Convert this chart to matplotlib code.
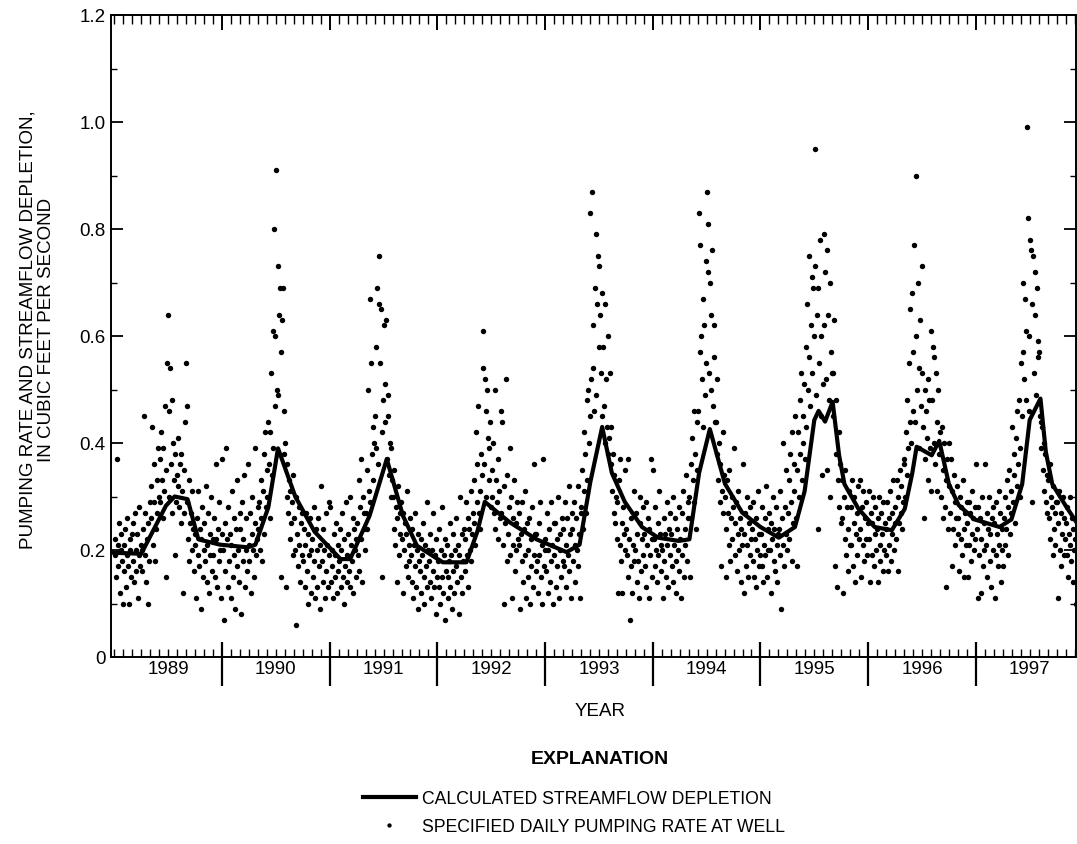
import matplotlib
matplotlib.use('Agg')
import matplotlib.pyplot as plt
from matplotlib.ticker import FixedLocator, FuncFormatter, MultipleLocator, NullFormatter
import matplotlib.transforms as mtransforms

plt.rcParams['font.family'] = ['Liberation Sans', 'DejaVu Sans']

# calculated streamflow depletion (decimal year, cfs)
line_year = [1988.97, 1989.25, 1989.48, 1989.56, 1989.68, 1989.78, 1989.98, 1990.24, 1990.31,
             1990.43, 1990.52, 1990.68, 1990.86, 1991.10, 1991.19, 1991.37, 1991.53, 1991.68,
             1991.81, 1992.05, 1992.27, 1992.37, 1992.44, 1992.67, 1992.92, 1993.20, 1993.32,
             1993.42, 1993.53, 1993.62, 1993.74, 1993.90, 1994.05, 1994.24, 1994.34, 1994.43,
             1994.53, 1994.67, 1994.83, 1995.00, 1995.17, 1995.32, 1995.41, 1995.50, 1995.54,
             1995.60, 1995.67, 1995.73, 1995.78, 1995.91, 1996.06, 1996.22, 1996.34, 1996.41,
             1996.45, 1996.59, 1996.66, 1996.75, 1996.84, 1996.99, 1997.22, 1997.33, 1997.43,
             1997.50, 1997.60, 1997.65, 1997.71, 1997.83, 1997.94]
line_cfs = [0.195, 0.193, 0.283, 0.300, 0.295, 0.220, 0.210, 0.205, 0.210,
            0.280, 0.390, 0.300, 0.234, 0.183, 0.183, 0.264, 0.370, 0.264,
            0.208, 0.177, 0.177, 0.234, 0.290, 0.252, 0.220, 0.196, 0.210,
            0.327, 0.430, 0.344, 0.290, 0.243, 0.223, 0.217, 0.220, 0.344,
            0.426, 0.324, 0.270, 0.243, 0.223, 0.243, 0.310, 0.443, 0.460,
            0.440, 0.477, 0.377, 0.323, 0.277, 0.243, 0.237, 0.277, 0.344,
            0.393, 0.377, 0.404, 0.323, 0.284, 0.257, 0.243, 0.257, 0.323,
            0.443, 0.483, 0.383, 0.323, 0.284, 0.250]

pump_1989 = [
    [0.19, 0.22, 0.15, 0.37, 0.21, 0.17, 0.25, 0.12, 0.20, 0.23, 0.18, 0.10],
    [0.21, 0.16, 0.24, 0.13, 0.19, 0.26, 0.17, 0.10, 0.22, 0.20, 0.15, 0.23],
    [0.25, 0.18, 0.14, 0.27, 0.20, 0.16, 0.23, 0.11, 0.19, 0.28, 0.17, 0.21],
    [0.20, 0.16, 0.24, 0.45, 0.19, 0.27, 0.14, 0.22, 0.10, 0.25, 0.18, 0.29],
    [0.26, 0.32, 0.43, 0.21, 0.29, 0.36, 0.18, 0.24, 0.33, 0.27, 0.39, 0.30],
    [0.37, 0.29, 0.42, 0.33, 0.26, 0.39, 0.31, 0.47, 0.15, 0.35, 0.55, 0.64],
    [0.46, 0.30, 0.54, 0.36, 0.48, 0.27, 0.40, 0.33, 0.19, 0.38, 0.29, 0.34],
    [0.32, 0.41, 0.28, 0.36, 0.25, 0.38, 0.31, 0.12, 0.35, 0.27, 0.44, 0.55],
    [0.47, 0.29, 0.22, 0.33, 0.18, 0.25, 0.27, 0.20, 0.31, 0.24, 0.16, 0.23],
    [0.21, 0.11, 0.26, 0.19, 0.31, 0.17, 0.24, 0.09, 0.22, 0.28, 0.15, 0.20],
    [0.25, 0.18, 0.32, 0.14, 0.21, 0.27, 0.12, 0.23, 0.19, 0.30, 0.16, 0.22],
    [0.19, 0.26, 0.15, 0.36, 0.22, 0.13, 0.24, 0.18, 0.29, 0.20, 0.11, 0.23],
]
pump_1990 = [
    [0.37, 0.20, 0.07, 0.25, 0.16, 0.39, 0.22, 0.13, 0.28, 0.18, 0.23, 0.11],
    [0.21, 0.31, 0.15, 0.26, 0.19, 0.09, 0.24, 0.17, 0.33, 0.20, 0.14, 0.27],
    [0.24, 0.08, 0.29, 0.18, 0.22, 0.34, 0.13, 0.20, 0.26, 0.16, 0.36, 0.21],
    [0.18, 0.27, 0.12, 0.23, 0.30, 0.20, 0.15, 0.25, 0.39, 0.19, 0.22, 0.28],
    [0.24, 0.29, 0.20, 0.33, 0.26, 0.18, 0.31, 0.38, 0.23, 0.42, 0.28, 0.35],
    [0.30, 0.44, 0.36, 0.42, 0.26, 0.53, 0.34, 0.61, 0.39, 0.80, 0.47, 0.60],
    [0.91, 0.50, 0.73, 0.49, 0.64, 0.69, 0.57, 0.15, 0.63, 0.69, 0.46, 0.38],
    [0.40, 0.13, 0.36, 0.30, 0.27, 0.33, 0.22, 0.31, 0.25, 0.29, 0.34, 0.19],
    [0.26, 0.20, 0.30, 0.06, 0.23, 0.17, 0.28, 0.21, 0.14, 0.25, 0.19, 0.27],
    [0.18, 0.24, 0.13, 0.21, 0.27, 0.16, 0.10, 0.23, 0.19, 0.26, 0.12, 0.20],
    [0.22, 0.15, 0.28, 0.18, 0.11, 0.24, 0.20, 0.13, 0.26, 0.17, 0.09, 0.21],
    [0.32, 0.18, 0.14, 0.24, 0.20, 0.11, 0.27, 0.16, 0.21, 0.13, 0.29, 0.19],
]
pump_1991 = [
    [0.28, 0.14, 0.20, 0.17, 0.11, 0.23, 0.19, 0.15, 0.25, 0.12, 0.21, 0.16],
    [0.18, 0.24, 0.13, 0.20, 0.27, 0.15, 0.10, 0.22, 0.17, 0.29, 0.14, 0.19],
    [0.23, 0.16, 0.30, 0.13, 0.21, 0.18, 0.26, 0.12, 0.24, 0.20, 0.15, 0.22],
    [0.25, 0.19, 0.33, 0.16, 0.28, 0.22, 0.37, 0.14, 0.30, 0.24, 0.27, 0.20],
    [0.27, 0.35, 0.24, 0.50, 0.31, 0.67, 0.29, 0.55, 0.38, 0.43, 0.33, 0.40],
    [0.45, 0.39, 0.58, 0.69, 0.36, 0.66, 0.75, 0.55, 0.65, 0.15, 0.42, 0.48],
    [0.62, 0.51, 0.44, 0.63, 0.37, 0.49, 0.45, 0.34, 0.40, 0.30, 0.39, 0.33],
    [0.30, 0.24, 0.35, 0.21, 0.28, 0.14, 0.26, 0.32, 0.19, 0.27, 0.23, 0.29],
    [0.22, 0.27, 0.12, 0.20, 0.25, 0.17, 0.23, 0.31, 0.15, 0.21, 0.18, 0.26],
    [0.19, 0.14, 0.24, 0.11, 0.21, 0.17, 0.27, 0.13, 0.20, 0.23, 0.09, 0.18],
    [0.16, 0.22, 0.12, 0.19, 0.25, 0.15, 0.10, 0.21, 0.17, 0.29, 0.13, 0.20],
    [0.18, 0.14, 0.23, 0.11, 0.20, 0.16, 0.27, 0.13, 0.19, 0.08, 0.22, 0.15],
]
pump_1992 = [
    [0.18, 0.13, 0.24, 0.10, 0.20, 0.15, 0.28, 0.12, 0.19, 0.07, 0.22, 0.16],
    [0.21, 0.15, 0.11, 0.18, 0.25, 0.13, 0.19, 0.09, 0.23, 0.16, 0.12, 0.20],
    [0.17, 0.26, 0.14, 0.21, 0.08, 0.19, 0.30, 0.15, 0.23, 0.12, 0.18, 0.24],
    [0.22, 0.16, 0.29, 0.19, 0.26, 0.13, 0.24, 0.20, 0.31, 0.18, 0.23, 0.27],
    [0.25, 0.33, 0.21, 0.42, 0.29, 0.36, 0.47, 0.27, 0.31, 0.24, 0.38, 0.34],
    [0.61, 0.54, 0.36, 0.52, 0.46, 0.30, 0.50, 0.41, 0.33, 0.39, 0.44, 0.28],
    [0.35, 0.30, 0.40, 0.27, 0.50, 0.24, 0.33, 0.29, 0.37, 0.22, 0.31, 0.26],
    [0.46, 0.27, 0.44, 0.21, 0.32, 0.10, 0.25, 0.52, 0.18, 0.34, 0.23, 0.28],
    [0.39, 0.19, 0.30, 0.11, 0.26, 0.21, 0.33, 0.16, 0.25, 0.20, 0.29, 0.22],
    [0.21, 0.27, 0.09, 0.23, 0.18, 0.29, 0.14, 0.24, 0.19, 0.31, 0.11, 0.25],
    [0.20, 0.15, 0.26, 0.10, 0.22, 0.17, 0.28, 0.13, 0.36, 0.19, 0.23, 0.16],
    [0.23, 0.18, 0.12, 0.25, 0.19, 0.29, 0.15, 0.21, 0.10, 0.37, 0.17, 0.20],
]
pump_1993 = [
    [0.22, 0.16, 0.27, 0.12, 0.20, 0.24, 0.14, 0.29, 0.18, 0.21, 0.10, 0.25],
    [0.19, 0.25, 0.13, 0.22, 0.17, 0.30, 0.11, 0.20, 0.23, 0.15, 0.26, 0.18],
    [0.24, 0.17, 0.29, 0.21, 0.13, 0.26, 0.19, 0.32, 0.16, 0.23, 0.11, 0.27],
    [0.24, 0.18, 0.29, 0.21, 0.14, 0.26, 0.20, 0.32, 0.17, 0.23, 0.11, 0.27],
    [0.28, 0.35, 0.24, 0.42, 0.31, 0.38, 0.27, 0.48, 0.33, 0.50, 0.40, 0.45],
    [0.83, 0.52, 0.87, 0.62, 0.54, 0.46, 0.69, 0.49, 0.79, 0.66, 0.75, 0.58],
    [0.73, 0.64, 0.53, 0.68, 0.45, 0.58, 0.47, 0.66, 0.40, 0.52, 0.43, 0.38],
    [0.60, 0.41, 0.53, 0.36, 0.43, 0.31, 0.38, 0.27, 0.34, 0.25, 0.30, 0.22],
    [0.29, 0.12, 0.33, 0.21, 0.37, 0.18, 0.25, 0.12, 0.28, 0.23, 0.35, 0.20],
    [0.24, 0.19, 0.37, 0.15, 0.22, 0.07, 0.17, 0.26, 0.12, 0.21, 0.31, 0.18],
    [0.20, 0.27, 0.14, 0.23, 0.18, 0.11, 0.25, 0.30, 0.16, 0.22, 0.19, 0.28],
    [0.23, 0.17, 0.29, 0.13, 0.21, 0.26, 0.11, 0.24, 0.19, 0.37, 0.15, 0.22],
]
pump_1994 = [
    [0.35, 0.22, 0.17, 0.28, 0.20, 0.14, 0.25, 0.19, 0.31, 0.23, 0.16, 0.21],
    [0.20, 0.11, 0.26, 0.18, 0.23, 0.15, 0.29, 0.21, 0.13, 0.24, 0.19, 0.27],
    [0.23, 0.17, 0.30, 0.14, 0.21, 0.26, 0.18, 0.12, 0.24, 0.20, 0.28, 0.16],
    [0.22, 0.11, 0.27, 0.19, 0.31, 0.15, 0.24, 0.21, 0.34, 0.18, 0.26, 0.29],
    [0.30, 0.15, 0.36, 0.26, 0.41, 0.33, 0.29, 0.46, 0.38, 0.24, 0.44, 0.35],
    [0.46, 0.83, 0.57, 0.77, 0.60, 0.52, 0.67, 0.43, 0.62, 0.49, 0.74, 0.55],
    [0.87, 0.81, 0.72, 0.53, 0.70, 0.64, 0.50, 0.76, 0.47, 0.62, 0.56, 0.44],
    [0.44, 0.38, 0.52, 0.33, 0.40, 0.29, 0.36, 0.17, 0.31, 0.42, 0.27, 0.34],
    [0.30, 0.24, 0.15, 0.33, 0.27, 0.21, 0.35, 0.18, 0.26, 0.30, 0.22, 0.28],
    [0.39, 0.25, 0.19, 0.29, 0.16, 0.23, 0.31, 0.20, 0.26, 0.14, 0.24, 0.21],
    [0.36, 0.12, 0.23, 0.27, 0.17, 0.21, 0.30, 0.15, 0.25, 0.19, 0.28, 0.22],
    [0.24, 0.18, 0.29, 0.15, 0.22, 0.26, 0.13, 0.20, 0.31, 0.17, 0.23, 0.19],
]
pump_1995 = [
    [0.23, 0.17, 0.28, 0.14, 0.21, 0.26, 0.19, 0.32, 0.15, 0.24, 0.20, 0.27],
    [0.20, 0.25, 0.12, 0.22, 0.30, 0.18, 0.24, 0.16, 0.28, 0.21, 0.14, 0.23],
    [0.24, 0.19, 0.31, 0.09, 0.26, 0.21, 0.40, 0.17, 0.28, 0.23, 0.35, 0.20],
    [0.27, 0.33, 0.22, 0.38, 0.29, 0.18, 0.42, 0.25, 0.36, 0.31, 0.45, 0.26],
    [0.35, 0.17, 0.42, 0.30, 0.48, 0.38, 0.53, 0.33, 0.45, 0.40, 0.51, 0.37],
    [0.58, 0.43, 0.66, 0.50, 0.56, 0.75, 0.47, 0.62, 0.71, 0.53, 0.69, 0.60],
    [0.95, 0.73, 0.49, 0.64, 0.24, 0.69, 0.55, 0.78, 0.45, 0.60, 0.34, 0.51],
    [0.79, 0.62, 0.72, 0.52, 0.76, 0.35, 0.64, 0.48, 0.70, 0.30, 0.57, 0.53],
    [0.53, 0.45, 0.63, 0.17, 0.38, 0.48, 0.13, 0.33, 0.42, 0.28, 0.36, 0.25],
    [0.33, 0.26, 0.12, 0.30, 0.22, 0.35, 0.19, 0.28, 0.24, 0.16, 0.31, 0.21],
    [0.28, 0.21, 0.33, 0.17, 0.25, 0.30, 0.14, 0.23, 0.27, 0.19, 0.32, 0.22],
    [0.33, 0.24, 0.15, 0.28, 0.21, 0.31, 0.18, 0.26, 0.22, 0.29, 0.19, 0.25],
]
pump_1996 = [
    [0.31, 0.22, 0.14, 0.27, 0.19, 0.25, 0.30, 0.17, 0.23, 0.28, 0.20, 0.24],
    [0.26, 0.14, 0.30, 0.21, 0.18, 0.27, 0.23, 0.16, 0.29, 0.20, 0.25, 0.19],
    [0.24, 0.29, 0.16, 0.26, 0.21, 0.31, 0.18, 0.27, 0.23, 0.33, 0.20, 0.25],
    [0.28, 0.22, 0.33, 0.16, 0.30, 0.25, 0.35, 0.27, 0.32, 0.24, 0.29, 0.36],
    [0.37, 0.30, 0.42, 0.34, 0.48, 0.39, 0.55, 0.44, 0.65, 0.40, 0.68, 0.46],
    [0.57, 0.77, 0.44, 0.90, 0.60, 0.50, 0.70, 0.39, 0.54, 0.63, 0.47, 0.73],
    [0.53, 0.43, 0.26, 0.50, 0.37, 0.46, 0.41, 0.52, 0.33, 0.48, 0.39, 0.31],
    [0.61, 0.48, 0.58, 0.40, 0.56, 0.36, 0.53, 0.44, 0.31, 0.50, 0.38, 0.42],
    [0.38, 0.30, 0.43, 0.26, 0.35, 0.40, 0.28, 0.33, 0.13, 0.37, 0.24, 0.32],
    [0.40, 0.27, 0.37, 0.17, 0.31, 0.24, 0.34, 0.21, 0.29, 0.26, 0.32, 0.23],
    [0.26, 0.16, 0.30, 0.22, 0.28, 0.19, 0.33, 0.24, 0.15, 0.27, 0.21, 0.29],
    [0.25, 0.15, 0.29, 0.21, 0.27, 0.18, 0.31, 0.23, 0.26, 0.20, 0.28, 0.22],
]
pump_1997 = [
    [0.36, 0.24, 0.11, 0.28, 0.19, 0.26, 0.12, 0.22, 0.30, 0.17, 0.25, 0.20],
    [0.36, 0.21, 0.27, 0.15, 0.24, 0.30, 0.18, 0.23, 0.13, 0.26, 0.20, 0.28],
    [0.25, 0.11, 0.29, 0.19, 0.23, 0.17, 0.31, 0.21, 0.27, 0.14, 0.24, 0.20],
    [0.17, 0.26, 0.21, 0.30, 0.24, 0.33, 0.19, 0.28, 0.35, 0.23, 0.31, 0.27],
    [0.43, 0.29, 0.34, 0.38, 0.25, 0.41, 0.32, 0.46, 0.36, 0.48, 0.30, 0.39],
    [0.55, 0.45, 0.57, 0.70, 0.52, 0.67, 0.61, 0.48, 0.99, 0.82, 0.60, 0.46],
    [0.78, 0.76, 0.29, 0.66, 0.75, 0.53, 0.64, 0.72, 0.49, 0.69, 0.59, 0.56],
    [0.57, 0.45, 0.39, 0.44, 0.43, 0.35, 0.40, 0.31, 0.38, 0.29, 0.34, 0.27],
    [0.33, 0.26, 0.36, 0.22, 0.30, 0.28, 0.19, 0.32, 0.24, 0.27, 0.21, 0.29],
    [0.29, 0.11, 0.25, 0.31, 0.20, 0.27, 0.17, 0.23, 0.30, 0.19, 0.26, 0.22],
    [0.25, 0.19, 0.28, 0.15, 0.23, 0.21, 0.30, 0.18, 0.26, 0.14, 0.24, 0.20],
    [0.22, 0.10, 0.26, 0.33, 0.18, 0.24],
]

years = [1989, 1990, 1991, 1992, 1993, 1994, 1995, 1996, 1997]
pumping = [pump_1989, pump_1990, pump_1991, pump_1992, pump_1993,
           pump_1994, pump_1995, pump_1996, pump_1997]

# one reading every ~2.5 days within each month
pump_x, pump_y = [], []
for yr, months in zip(years, pumping):
    for m, vals in enumerate(months):
        for i, v in enumerate(vals):
            pump_x.append(yr + (m + (i + 0.5) / 12) / 12)
            pump_y.append(v)

W, H = 1077, 845
fig = plt.figure(figsize=(W / 100, H / 100), dpi=100)
ax = fig.add_axes([111 / W, 1 - 658 / H, (1076 - 111) / W, 642 / H])

dots, = ax.plot(pump_x, pump_y, 'o', color='black', ms=3.9, mew=0, zorder=2)
calc, = ax.plot(line_year, line_cfs, '-', color='black', lw=3.0, zorder=3)

ax.set_xlim(1988.969, 1997.93)
ax.set_ylim(0, 1.2)

for s in ax.spines.values():
    s.set_linewidth(1.4)

boundaries = years[1:]
months_all = [y + m / 12 for y in range(1988, 1999) for m in range(12)]

ax.xaxis.set_major_locator(FixedLocator(boundaries))
ax.xaxis.set_minor_locator(FixedLocator(months_all))
ax.xaxis.set_major_formatter(NullFormatter())
ax.xaxis.set_minor_formatter(NullFormatter())
ax.tick_params(axis='x', which='major', direction='out', length=21, width=1.6,
               top=False, bottom=True)
ax.tick_params(axis='x', which='minor', direction='in', length=6, width=1.0,
               top=False, bottom=True)

sb = ax.secondary_xaxis('bottom')
sb.set_xticks(boundaries)
sb.xaxis.set_major_formatter(NullFormatter())
sb.tick_params(which='major', direction='in', length=11, width=1.6)
sb.spines['bottom'].set_visible(False)

st = ax.secondary_xaxis('top')
st.set_xticks(boundaries)
st.xaxis.set_minor_locator(FixedLocator(months_all))
st.xaxis.set_major_formatter(NullFormatter())
st.xaxis.set_minor_formatter(NullFormatter())
st.tick_params(which='major', direction='in', length=11, width=1.4)
st.tick_params(which='minor', direction='in', length=6.5, width=1.0)
st.spines['top'].set_visible(False)

ax.yaxis.set_major_locator(MultipleLocator(0.2))
ax.yaxis.set_minor_locator(MultipleLocator(0.1))
ax.yaxis.set_major_formatter(FuncFormatter(lambda v, p: '0' if abs(v) < 1e-9 else f'{v:.1f}'))
ax.tick_params(axis='y', which='major', direction='in', length=8.5, width=1.3,
               left=True, right=True, labelsize=13.5, pad=4)
ax.tick_params(axis='y', which='minor', direction='in', length=4, width=1.0,
               left=True, right=True)

# year labels centred between boundaries
trans = mtransforms.blended_transform_factory(ax.transData, ax.transAxes)
for yr in years:
    ax.text(yr + 0.5, -3 / 642, str(yr), transform=trans, ha='center', va='top',
            fontsize=13.5)

fig.text(37 / W, 1 - 330 / H,
         'PUMPING RATE AND STREAMFLOW DEPLETION,\nIN CUBIC FEET PER SECOND',
         rotation=90, ha='center', va='center', multialignment='center',
         fontsize=13.5, linespacing=1.15)
fig.text(600 / W, 1 - 712 / H, 'YEAR', ha='center', va='center', fontsize=13.5)
fig.text(600 / W, 1 - 760 / H, 'EXPLANATION', ha='center', va='center',
         fontsize=14, fontweight='bold')

fig.legend([calc, dots],
           ['CALCULATED STREAMFLOW DEPLETION', 'SPECIFIED DAILY PUMPING RATE AT WELL'],
           loc='upper left', bbox_to_anchor=(363 / W, 1 - 791 / H),
           frameon=False, fontsize=12.7, handlelength=3.0, handletextpad=0.35,
           labelspacing=0.62, borderpad=0, borderaxespad=0, numpoints=1,
           markerscale=0.8)

fig.savefig('out.png', dpi=100, facecolor='white')
